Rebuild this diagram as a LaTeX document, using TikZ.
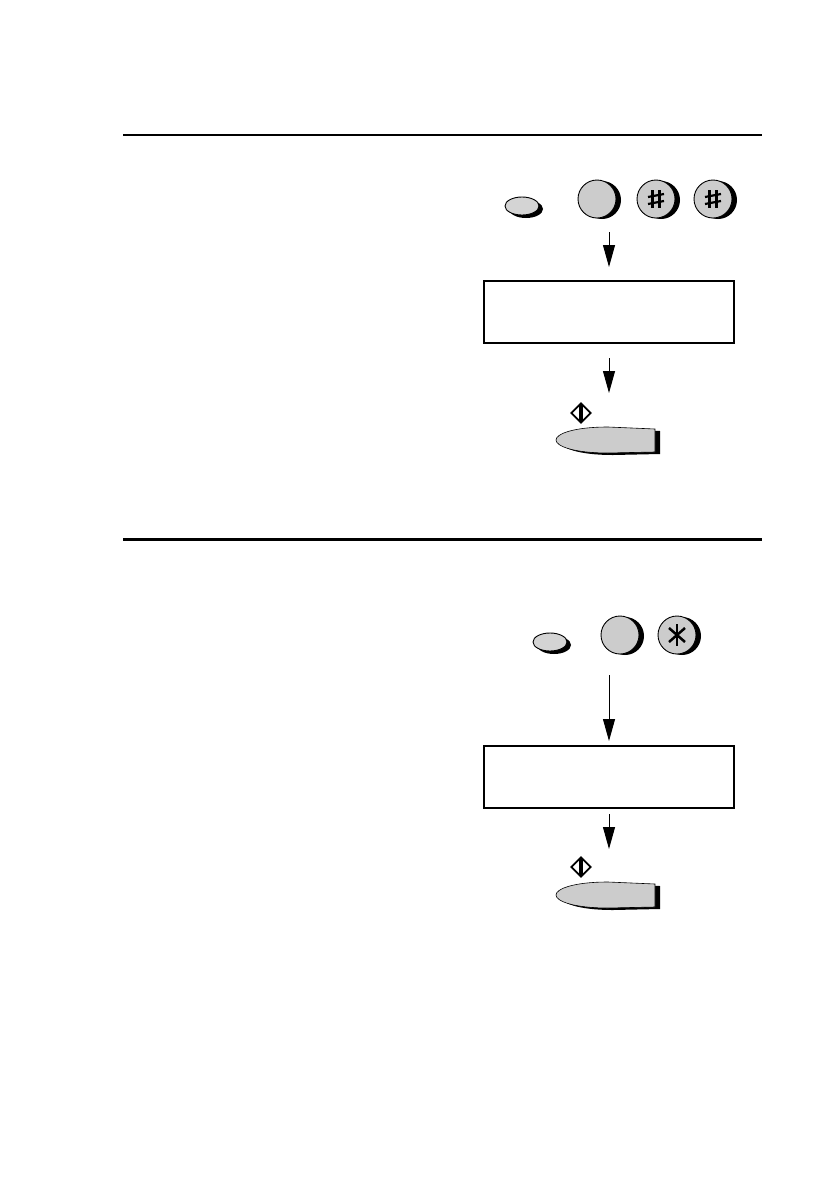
\documentclass[tikz,border=0pt]{standalone}
\usetikzlibrary{arrows.meta,shapes.geometric,shadows}

\definecolor{keygrey}{gray}{0.8}

\tikzset{
    key/.style={circle, draw, line width=0.9pt, fill=keygrey, minimum size=38pt, inner sep=0pt,
        drop shadow={shadow xshift=5pt, shadow yshift=-1pt, fill=black, opacity=1}},
    smallkey/.style={ellipse, draw, line width=0.9pt, fill=keygrey!85, minimum width=34pt, minimum height=18pt, inner sep=0pt,
        drop shadow={shadow xshift=4pt, shadow yshift=-3pt, fill=black, opacity=1}},
    lcd/.style={draw, line width=2pt, minimum width=250pt, minimum height=62pt, inner sep=0pt},
    flow/.style={-{Triangle[width=12pt,length=22pt]}, line width=1pt},
    startmark/.style={diamond, draw, line width=1.8pt, minimum size=20pt, inner sep=0pt},
    startbtn/.pic={
        \fill[black, shift={(5,2)}] (-52,0) .. controls (-52,-6) and (-35,-13) .. (0,-13) -- (47,-11) -- (47,12) -- (0,13) .. controls (-35,13) and (-52,6) .. (-52,0) -- cycle;
        \filldraw[fill=keygrey, draw=black, line width=0.6pt] (-52,0) .. controls (-52,-6) and (-35,-13) .. (0,-13) -- (47,-11) -- (47,12) -- (0,13) .. controls (-35,13) and (-52,6) .. (-52,0) -- cycle;
    }
}

\begin{document}
\begin{tikzpicture}[x=1pt, y=-1pt]
    \useasboundingbox (0,0) rectangle (838,1189);

    % rules
    \draw[line width=1.5pt] (123,135) -- (762,135);
    \draw[line width=3pt] (123,539) -- (762,539);

    % upper steps
    \node[smallkey] (funcA) at (522,206) {};
    \node[key] (numA) at (597,199) {};
    \node[key] (hashA) at (656,199) {};
    \node[key] (hashB) at (713,199) {};
    \foreach \k in {hashA,hashB} {
        \begin{scope}[shift={(\k)}, line width=2.2pt]
            \draw (-3.5,-9) -- (-3.5,9);
            \draw (3.5,-9) -- (3.5,9);
            \draw (-8,-2) -- (8,-5);
            \draw (-8,5) -- (8,2);
        \end{scope}
    }
    \coordinate (flowA) at (609,232);
    \node[lcd] (lcdA) at (609,312) {};
    \draw[flow, shorten >=13pt] (flowA) -- (lcdA.north);

    \node[startmark] (markA) at (581,413) {};
    \draw[line width=3.2pt] ([yshift=-3pt]markA.north) -- ([yshift=3pt]markA.south);
    \pic (startA) at (608,440) {startbtn};
    \coordinate (stopA) at (609,427);
    \draw[flow, shorten <=14pt, shorten >=34pt] (lcdA.south) -- (stopA);

    % lower steps
    \node[smallkey] (funcB) at (550,642) {};
    \node[key] (numB) at (620,635) {};
    \node[key] (starB) at (677,635) {};
    \begin{scope}[shift={(starB)}, line width=2.5pt]
        \draw (0,-11) -- (0,11);
        \draw (-8,-7) -- (8,7);
        \draw (-8,7) -- (8,-7);
    \end{scope}
    \coordinate (flowB) at (609,675);
    \node[lcd] (lcdB) at (609,777) {};
    \draw[flow, shorten >=4pt] (flowB) -- (lcdB.north);

    \node[startmark] (markB) at (581,867) {};
    \draw[line width=3.2pt] ([yshift=-3pt]markB.north) -- ([yshift=3pt]markB.south);
    \pic (startB) at (608,895) {startbtn};
    \coordinate (stopB) at (609,882);
    \draw[flow, shorten <=5pt, shorten >=33pt] (lcdB.south) -- (stopB);
\end{tikzpicture}
\end{document}
